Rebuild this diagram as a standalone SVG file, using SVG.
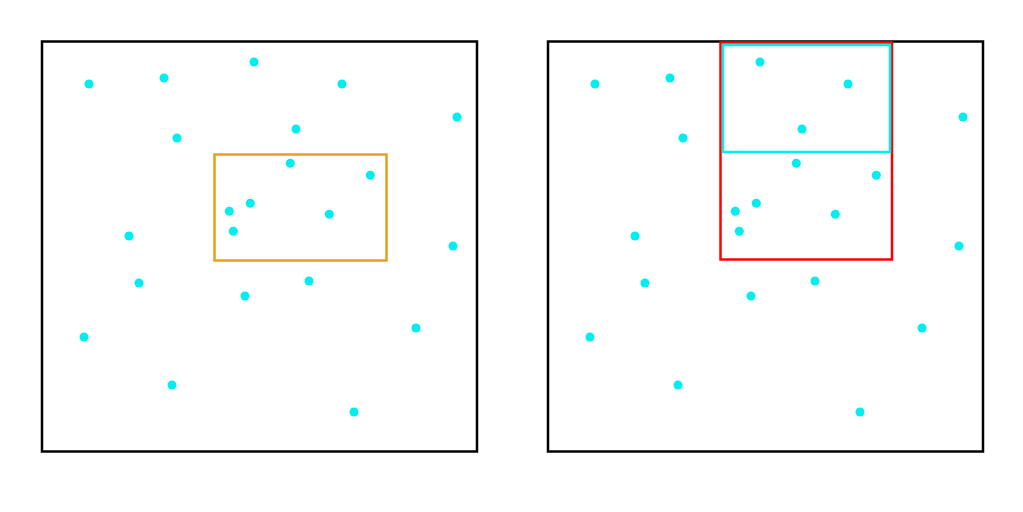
<svg xmlns="http://www.w3.org/2000/svg" width="1023" height="512" viewBox="0 0 1023 512">
<style>
.frame{fill:none;stroke:#000;stroke-width:2.5}
.dot{fill:#00eeee}
</style>
<defs>
<g id="dots">
<circle cx="89" cy="84" r="4.5"/><circle cx="164" cy="78" r="4.5"/><circle cx="254" cy="62" r="4.5"/><circle cx="342" cy="84" r="4.5"/><circle cx="457" cy="117" r="4.5"/><circle cx="177" cy="138" r="4.5"/><circle cx="296" cy="129" r="4.5"/><circle cx="290.3" cy="163.3" r="4.5"/><circle cx="370.3" cy="175.3" r="4.5"/><circle cx="250.3" cy="203.3" r="4.5"/><circle cx="229.3" cy="211.3" r="4.5"/><circle cx="329.3" cy="214.3" r="4.5"/><circle cx="233.3" cy="231.3" r="4.5"/><circle cx="129" cy="236" r="4.5"/><circle cx="453" cy="246" r="4.5"/><circle cx="139" cy="283" r="4.5"/><circle cx="309" cy="281" r="4.5"/><circle cx="245" cy="296" r="4.5"/><circle cx="416" cy="328" r="4.5"/><circle cx="84" cy="337" r="4.5"/><circle cx="172" cy="385" r="4.5"/><circle cx="354" cy="412" r="4.5"/>
</g>
</defs>
<rect width="1023" height="512" fill="#fff"/>
<g id="left">
<rect class="frame" x="42" y="41.5" width="435" height="410"/>
<use href="#dots" class="dot"/>
<rect x="214.5" y="154.5" width="172" height="106" fill="none" stroke="#e69f1f" stroke-width="2.5"/>
</g>
<g id="right">
<rect class="frame" x="548" y="41.5" width="435" height="410"/>
<use href="#dots" class="dot" transform="translate(506,0)"/>
<rect x="720.5" y="42.5" width="171.5" height="217" fill="none" stroke="#ff0000" stroke-width="2.5"/>
<rect x="723" y="45" width="167" height="107" fill="none" stroke="#00eeee" stroke-width="2.5"/>
</g>
</svg>
